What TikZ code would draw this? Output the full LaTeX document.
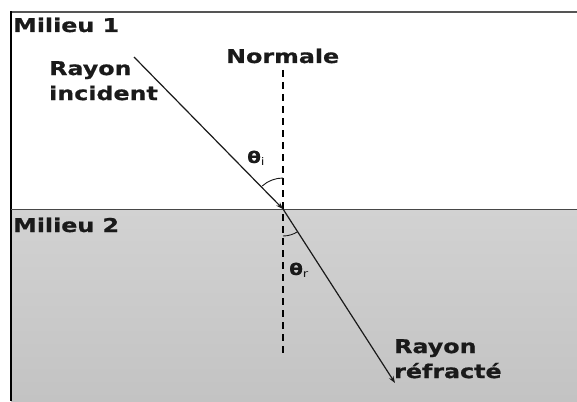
\documentclass[tikz,border=0pt]{standalone}
\usepackage{fontspec}
\newfontfamily\vfont[FakeStretch=1.25, BoldFeatures={FakeBold=0.8}]{DejaVu Sans}
\usetikzlibrary{arrows.meta}
\definecolor{ink}{HTML}{1A1A1A}
\definecolor{framegray}{HTML}{555555}
\definecolor{mtop}{HTML}{D2D2D2}
\definecolor{mbot}{HTML}{C3C3C3}
\newcommand{\angsub}[1]{\raisebox{-2pt}{\mdseries\fontsize{10.5}{10.5}\selectfont #1}}
\tikzset{
  lbl/.style={font=\vfont\bfseries\fontsize{19}{25}\selectfont, inner sep=0pt, align=left, text=ink},
  anglbl/.style={font=\vfont\bfseries\fontsize{16}{16}\selectfont, inner sep=0pt, text=ink},
  ray/.style={draw=ink, line width=1.2pt, -{Stealth[length=7pt,width=5pt]}},
  normale/.style={draw=black, line width=2pt, dash pattern=on 7pt off 5pt},
  anglearc/.style={draw=ink, line width=0.9pt}
}
\begin{document}
\begin{tikzpicture}[x=1pt,y=-1pt]
\useasboundingbox (0,0) rectangle (577,401);
% medium 2
\shade[top color=mtop, bottom color=mbot] (11,209) rectangle (577,401);
% frame
\draw[framegray, line width=1.5pt] (10,12) -- (577,12);
\draw[black, line width=2pt] (11,11.5) -- (11,401);
\draw[ink!80, line width=0.9pt] (11,209) -- (577,209);
% geometry
\coordinate (O) at (283,209);
\coordinate (A) at (134,57);
\coordinate (B) at (395,383);
\coordinate (N1) at (283,70);
\coordinate (N2) at (283,357);
\draw[normale] (N1) -- (N2);
\draw[ray] (A) -- (O);
\draw[ray] (O) -- (B);
% angle arcs
\draw[anglearc] ([shift={(-90:31)}]O) arc[start angle=-90, end angle=-132, radius=31];
\draw[anglearc] ([shift={(90:27)}]O) arc[start angle=90, end angle=57, radius=27];
% labels
\node[lbl, anchor=base west] (m1) at (13,32) {Milieu 1};
\node[lbl, anchor=base west] (m2) at (13,232) {Milieu 2};
\node[lbl, anchor=base west] (nrm) at (226,63) {Normale};
\node[lbl, anchor=north west] (ri) at (49,61) {Rayon\\incident};
\node[lbl, anchor=north west] (rr) at (394,339) {Rayon\\réfracté};
\node[anglbl, anchor=base west] (ti) at (247,163) {θ\angsub{i}};
\node[anglbl, anchor=base west] (tr) at (289,275) {θ\angsub{r}};
\end{tikzpicture}
\end{document}
